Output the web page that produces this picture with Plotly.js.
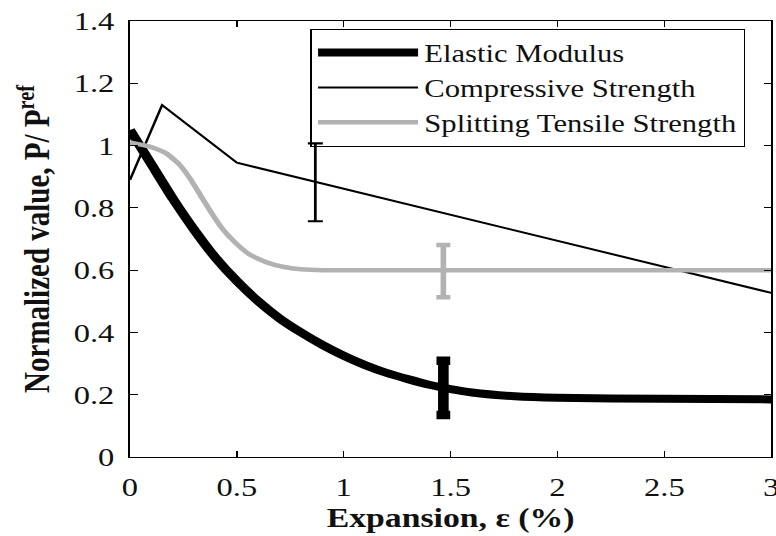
<!DOCTYPE html>
<html>
<head>
<meta charset="utf-8">
<script src="https://cdn.plot.ly/plotly-3.0.1.min.js"></script>
<style>
  html, body { margin: 0; padding: 0; background: #fff; overflow: hidden; }
  /* the figure is laid out narrow and widened, which gives its wide-set lettering */
  #wrap { width: 621px; height: 536px; transform: scaleX(1.25); transform-origin: 0 0; }
  #chart { width: 621px; height: 536px; }
</style>
</head>
<body>
<div id="wrap"><div id="chart"></div></div>
<script>
// Normalized properties versus expansion
const elasticX = [0, 0.1, 0.2, 0.3, 0.4, 0.5, 0.6, 0.7, 0.8, 0.9, 1.0, 1.1, 1.2, 1.3, 1.4, 1.5, 1.6, 1.8, 2.0, 2.5, 3.0];
const elasticY = [1.05, 0.94, 0.83, 0.73, 0.64, 0.565, 0.50, 0.445, 0.40, 0.36, 0.325, 0.295, 0.27, 0.25, 0.232, 0.218, 0.207, 0.195, 0.19, 0.187, 0.185];

const compX = [0, 0.15, 0.5, 3.0];
const compY = [0.89, 1.13, 0.945, 0.527];

const tensileX = [0, 0.1, 0.17, 0.23, 0.28, 0.33, 0.38, 0.43, 0.49, 0.56, 0.64, 0.72, 0.8, 0.9, 1.2, 2.0, 3.0];
const tensileY = [1.01, 0.995, 0.975, 0.94, 0.895, 0.84, 0.785, 0.735, 0.69, 0.65, 0.625, 0.61, 0.603, 0.6, 0.6, 0.6, 0.6];

// error bars: position, centre and half-range
const errCompX = [0.867], errCompY = [0.882], errCompD = [0.125];
const errTenX = [1.466], errTenY = [0.597], errTenD = [0.084];
const errElaX = [1.466], errElaY = [0.222], errElaD = [0.087];

const serifFont = 'Liberation Serif, Times New Roman, serif';
const grey = 'rgb(178,178,178)';

const traces = [
  { x: elasticX, y: elasticY, name: 'Elastic Modulus', mode: 'lines',
    line: { color: '#000', width: 8, shape: 'spline', smoothing: 0.5 } },
  { x: compX, y: compY, name: 'Compressive Strength', mode: 'lines',
    line: { color: '#000', width: 2 } },
  { x: tensileX, y: tensileY, name: 'Splitting Tensile Strength', mode: 'lines',
    line: { color: grey, width: 4.5, shape: 'spline', smoothing: 0.5 } },
  { x: errCompX, y: errCompY, mode: 'markers', showlegend: false, hoverinfo: 'skip',
    marker: { opacity: 0, size: 1 },
    error_y: { type: 'data', array: errCompD, color: '#000', thickness: 2.2, width: 6 } },
  { x: errTenX, y: errTenY, mode: 'markers', showlegend: false, hoverinfo: 'skip',
    marker: { opacity: 0, size: 1 },
    error_y: { type: 'data', array: errTenD, color: grey, thickness: 4.5, width: 5.6 } },
  { x: errElaX, y: errElaY, mode: 'markers', showlegend: false, hoverinfo: 'skip',
    marker: { opacity: 0, size: 1 },
    error_y: { type: 'data', array: errElaD, color: '#000', thickness: 8.5, width: 5.5 } }
];

const axisCommon = {
  showline: true, linecolor: '#000', linewidth: 1.3, mirror: 'ticks',
  ticks: 'inside', ticklen: 6, tickwidth: 1.1, tickcolor: '#000',
  showgrid: false, zeroline: false, ticklabeloverflow: 'allow',
  tickfont: { family: serifFont, size: 26, color: '#111' }
};

const layout = {
  width: 621, height: 536,
  margin: { l: 103.6, r: 3.6, t: 21, b: 79 },
  paper_bgcolor: '#fff', plot_bgcolor: '#fff',
  font: { family: serifFont, size: 24, color: '#111' },
  showlegend: true,
  xaxis: Object.assign({}, axisCommon, {
    range: [0, 3], dtick: 0.5, tick0: 0,
    ticklabelstandoff: 7,
    title: { text: '<b>Expansion, ε (%)</b>', font: { family: serifFont, size: 27, color: '#111' }, standoff: 6 }
  }),
  yaxis: Object.assign({}, axisCommon, {
    range: [0, 1.4], dtick: 0.2, tick0: 0,
    ticklabelstandoff: 6,
    title: { text: '<b>Normalized value, P/ P<sup>ref</sup></b>', font: { family: serifFont, size: 29, color: '#111' }, standoff: 10 }
  }),
  legend: {
    x: 0.281, y: 0.982, xanchor: 'left', yanchor: 'top',
    bgcolor: 'rgba(255,255,255,0)', bordercolor: '#000', borderwidth: 1.3,
    font: { family: serifFont, size: 24.5, color: '#111' },
    itemwidth: 80, tracegroupgap: 0
  }
};

Plotly.newPlot('chart', traces, layout, { displayModeBar: false, staticPlot: true });
</script>
</body>
</html>
